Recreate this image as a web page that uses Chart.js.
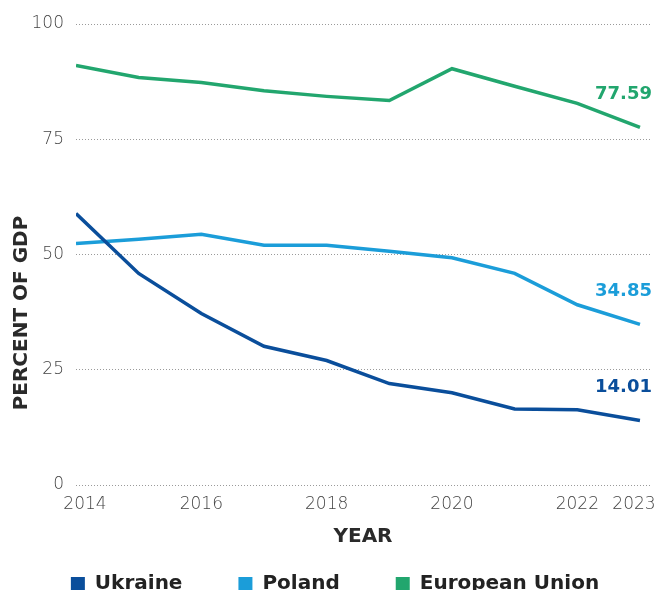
<!DOCTYPE html>
<html>
<head>
<meta charset="utf-8">
<script src="https://cdn.jsdelivr.net/npm/chart.js@4.4.1/dist/chart.umd.min.js"></script>
<style>
  html, body { margin: 0; padding: 0; overflow: hidden; background: #fff; }
</style>
</head>
<body>
<canvas id="chart" width="658" height="602"></canvas>
<script>
// --- data ---
const years = [2014, 2015, 2016, 2017, 2018, 2019, 2020, 2021, 2022, 2023];
const xTicks = [2014, 2016, 2018, 2020, 2022, 2023];
const yTicks = [0, 25, 50, 75, 100];

const ukraine = [58.9, 45.9, 37.2, 30.1, 27.0, 22.0, 20.0, 16.5, 16.3, 14.01];
const poland  = [52.4, 53.3, 54.4, 52.0, 52.0, 50.7, 49.3, 45.9, 39.1, 34.85];
const eu      = [91.0, 88.4, 87.3, 85.5, 84.3, 83.4, 90.3, 86.5, 82.8, 77.59];

const COLORS = { ukraine: '#0a4e9b', poland: '#1b9dd9', eu: '#22a66e' };
const FONT = 'DejaVu Sans';
const LEGEND_GAP = 56;

const toPoints = (arr) => years.map((y, i) => ({ x: y, y: arr[i] }));

function line(label, arr, color) {
    return {
        label,
        data: toPoints(arr),
        borderColor: color,
        backgroundColor: color,
        borderWidth: 3.5,
        pointRadius: 0,
        tension: 0,
    };
}

// value labels at the end of each line
const endLabels = {
    id: 'endLabels',
    afterDatasetsDraw(chart) {
        const ctx = chart.ctx;
        ctx.save();
        ctx.font = `bold 18px "${FONT}"`;
        ctx.textAlign = 'right';
        ctx.textBaseline = 'middle';
        chart.data.datasets.forEach((ds, i) => {
            const pts = chart.getDatasetMeta(i).data;
            const last = pts[pts.length - 1];
            const v = ds.data[ds.data.length - 1].y;
            ctx.fillStyle = ds.borderColor;
            ctx.fillText(v.toFixed(2), last.x + 12, last.y - 33);
        });
        ctx.restore();
    }
};

// y axis title sits lower than the plot middle in the original
const yTitle = {
    id: 'yTitle',
    afterDraw(chart) {
        const ctx = chart.ctx;
        ctx.save();
        ctx.translate(22, chart.chartArea.bottom - 172);
        ctx.rotate(-Math.PI / 2);
        ctx.font = `bold 20px "${FONT}"`;
        ctx.fillStyle = '#2a2a2a';
        ctx.textAlign = 'center';
        ctx.textBaseline = 'middle';
        ctx.fillText('PERCENT OF GDP', 0, 0);
        ctx.restore();
    }
};

// keep the first / last year labels inside the plot width
const edgeTicks = {
    id: 'edgeTicks',
    beforeDraw(chart) {
        const items = chart.scales.x.getLabelItems();
        if (!items.length || items._nudged) return;
        items[0].options.translation[0] += 9;
        items[items.length - 1].options.translation[0] -= 6;
        items._nudged = true;
    }
};

// wide gaps between legend items without the tall box that padding gives
const legendTrim = {
    id: 'legendTrim',
    beforeUpdate(chart) {
        const lg = chart.legend;
        if (!lg || lg._trimmed) return;
        const fit = lg.fit, draw = lg.draw;
        const dx = 10, dy = 46;
        lg.fit = function () { fit.call(this); this.height -= 48; };
        lg.draw = function () {
            this.top -= dy; this.left += dx; this.right += dx;
            draw.call(this);
            this.top += dy; this.left -= dx; this.right -= dx;
        };
        lg._trimmed = true;
    }
};

new Chart(document.getElementById('chart'), {
    type: 'line',
    data: {
        datasets: [
            line('Ukraine', ukraine, COLORS.ukraine),
            line('Poland', poland, COLORS.poland),
            line('European Union', eu, COLORS.eu),
        ]
    },
    options: {
        responsive: false,
        animation: false,
        layout: { padding: { top: 24, right: 8, left: 0, bottom: 0 } },
        plugins: {
            tooltip: { enabled: false },
            legend: {
                position: 'bottom',
                labels: {
                    boxWidth: 14,
                    boxHeight: 14,
                    padding: LEGEND_GAP,
                    color: '#222',
                    font: { family: FONT, size: 20, weight: 'bold' },
                    generateLabels: (chart) =>
                        Chart.defaults.plugins.legend.labels.generateLabels(chart)
                            .map(l => ({ ...l, lineWidth: 0 }))
                }
            }
        },
        scales: {
            x: {
                type: 'linear',
                min: 2014,
                max: 2023.16,
                afterBuildTicks: (s) => { s.ticks = xTicks.map(v => ({ value: v })); },
                afterFit: (s) => { s.height = 79; s.paddingLeft = 0; s.paddingRight = 0; },
                grid: { display: false, drawTicks: false },
                border: { display: false },
                ticks: {
                    color: '#444',
                    padding: 9,
                    maxRotation: 0,
                    autoSkip: false,
                    font: { family: FONT, size: 17, weight: '300' },
                    callback: (v) => String(v)
                },
                title: {
                    display: true,
                    text: 'YEAR',
                    color: '#2a2a2a',
                    padding: { top: 0, bottom: 15 },
                    font: { family: FONT, size: 20, weight: 'bold' }
                }
            },
            y: {
                min: 0,
                max: 100,
                afterBuildTicks: (s) => { s.ticks = yTicks.map(v => ({ value: v })); },
                afterFit: (s) => { s.width = 76; },
                grid: { color: '#9a9a9a', lineWidth: 1, drawTicks: false },
                border: { display: false, dash: [1, 2] },
                ticks: {
                    color: '#444',
                    padding: 12,
                    font: { family: FONT, size: 17, weight: '300' }
                }
            }
        }
    },
    plugins: [endLabels, yTitle, edgeTicks, legendTrim]
});
</script>
</body>
</html>
